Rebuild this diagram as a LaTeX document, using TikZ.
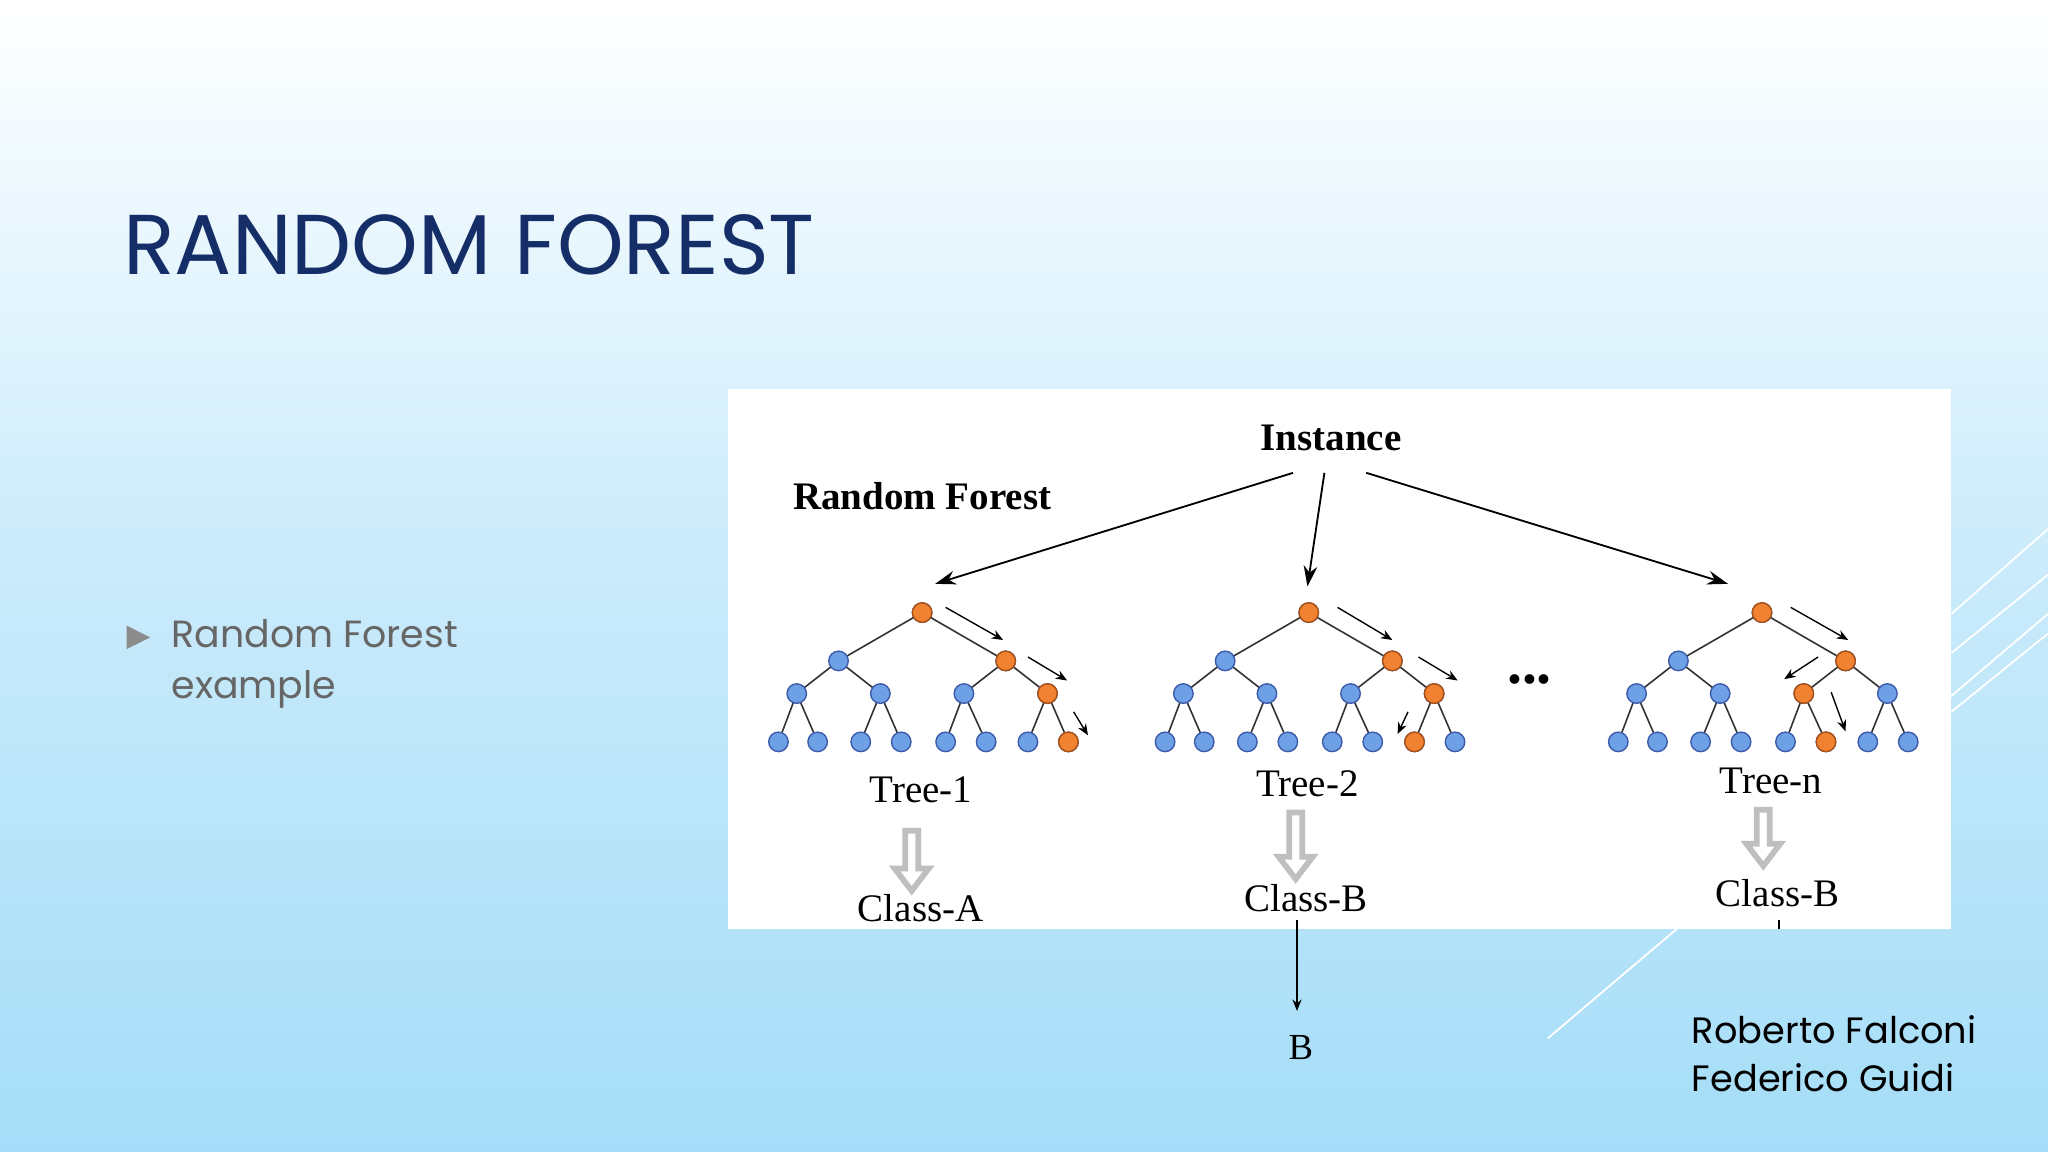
\documentclass[tikz,border=0pt]{standalone}
\usepackage{fontspec}
\setmainfont{Liberation Serif}
\newfontfamily\gfont{Poppins}
\usetikzlibrary{arrows.meta}
\definecolor{bgblue}{RGB}{165,221,248}
\definecolor{ttl}{RGB}{22,46,104}
\definecolor{nblue}{RGB}{110,160,230}
\definecolor{nbord}{RGB}{60,90,170}
\definecolor{norange}{RGB}{240,130,50}
\definecolor{oborder}{RGB}{170,80,20}
\tikzset{
 tn/.style={circle,draw=nbord,fill=nblue,line width=0.6pt,minimum size=8.5pt,inner sep=0pt},
 on/.style={tn,draw=oborder,fill=norange},
 edge/.style={draw=black!80,line width=0.7pt},
 sarr/.style={-{Stealth[length=5pt,width=4pt]},line width=0.6pt},
 barr/.style={-{Stealth[length=9pt,width=6pt]},line width=0.8pt},
 hollow/.style={draw=black!25,line width=2.5pt,line join=miter},
 lbl/.style={font=\fontsize{17}{17}\selectfont,inner sep=0pt},
}
\begin{document}
\begin{tikzpicture}[x=0.02cm,y=-0.02cm]
\shade[top color=white,bottom color=bgblue,middle color=bgblue!60] (0,0) rectangle (1568,882);
\useasboundingbox (0,0) rectangle (1568,882);
% decorative lines
\draw[white,line width=0.8pt] (1185,795) -- (1568,470);
\draw[white,line width=0.8pt] (1494,470) -- (1568,405);
\draw[white,line width=0.8pt] (1494,500) -- (1568,440);
\draw[white,line width=0.8pt] (1494,545) -- (1568,485);
\node[anchor=base west,inner sep=0pt,text=ttl,font=\gfont\fontsize{37}{37}\selectfont] (title) at (94,210) {RANDOM FOREST};
\fill[black!45] (97,479) -- (115,488) -- (97,497) -- cycle;
\node[anchor=north west,align=left,inner sep=0pt,text=black!60,font=\gfont\fontsize{16.5}{22}\selectfont] (btxt) at (131,474) {Random Forest\\example};
\node[anchor=north west,align=left,inner sep=0pt,text=black,font=\gfont\fontsize{16}{21}\selectfont] (auth) at (1295,777) {Roberto Falconi\\Federico Guidi};
% panel
\fill[white] (557,298) rectangle (1494,711);
\node[lbl,font=\bfseries\fontsize{17}{17}\selectfont] (inst) at (1019,335) {Instance};
\node[lbl,font=\bfseries\fontsize{17}{17}\selectfont] (rf) at (706,380) {Random Forest};
\coordinate (ta) at (716,447); \coordinate (tb) at (1001,449); \coordinate (tc) at (1323,447);
\draw[barr] (990,362) -- (ta);
\draw[barr] (1014,362) -- (tb);
\draw[barr] (1046,362) -- (tc);
% trees
\foreach \t/\r in {a/706,b/1002,c/1349}{
 \coordinate (\t0) at (\r,469);
 \coordinate (\t1) at (\r-64,506); \coordinate (\t2) at (\r+64,506);
 \coordinate (\t3) at (\r-96,531); \coordinate (\t4) at (\r-32,531);
 \coordinate (\t5) at (\r+32,531); \coordinate (\t6) at (\r+96,531);
 \foreach \i/\o in {7/-110,8/-80,9/-47,10/-16,11/18,12/49,13/81,14/112}{\coordinate (\t\i) at (\r+\o,568);}
 \foreach \p/\c in {0/1,0/2,1/3,1/4,2/5,2/6,3/7,3/8,4/9,4/10,5/11,5/12,6/13,6/14}{\draw[edge] (\t\p) -- (\t\c);}
 \foreach \i in {0,...,14}{\node[tn] (\t n\i) at (\t\i) {};}
}
\foreach \n in {an0,an2,an6,an14,bn0,bn2,bn6,bn13,cn0,cn2,cn5,cn12}{\node[on] at (\n) {};}
% path arrows
\draw[sarr] (724,465) -- (768,490); \draw[sarr] (787,503) -- (817,521); \draw[sarr] (822,545) -- (833,563);
\draw[sarr] (1024,465) -- (1066,490); \draw[sarr] (1086,503) -- (1116,521); \draw[sarr] (1078,545) -- (1070,562);
\draw[sarr] (1371,465) -- (1415,490); \draw[sarr] (1392,503) -- (1366,520); \draw[sarr] (1402,530) -- (1413,560);
\node[font=\bfseries\fontsize{26}{26}\selectfont,inner sep=0pt] (dots) at (1171,520) {...};
% labels
\node[lbl] (t1) at (705,605) {Tree-1};
\node[lbl] (t2) at (1001,600) {Tree-2};
\node[lbl] (t3) at (1356,598) {Tree-n};
\foreach \x/\a/\b in {698/636/682,992/622/673,1350/620/663}{
 \draw[hollow] (\x-5,\a) -- (\x+5,\a) -- (\x+5,\b-17) -- (\x+13,\b-17) -- (\x,\b) -- (\x-13,\b-17) -- (\x-5,\b-17) -- cycle;}
\node[lbl] (c1) at (705,695) {Class-A};
\node[lbl] (c2) at (1000,688) {Class-B};
\node[lbl] (c3) at (1361,684) {Class-B};
\coordinate (s2) at (993,704); \coordinate (s3) at (1362,704); \coordinate (s3b) at (1362,711);
\node[lbl,font=\fontsize{16}{16}\selectfont] (B) at (996,802) {B};
\draw[line width=0.6pt,-{Stealth[length=5pt,width=4pt]}] (s2) -- (993,774);
\draw[line width=0.6pt] (s3) -- (s3b);
\end{tikzpicture}
\end{document}
